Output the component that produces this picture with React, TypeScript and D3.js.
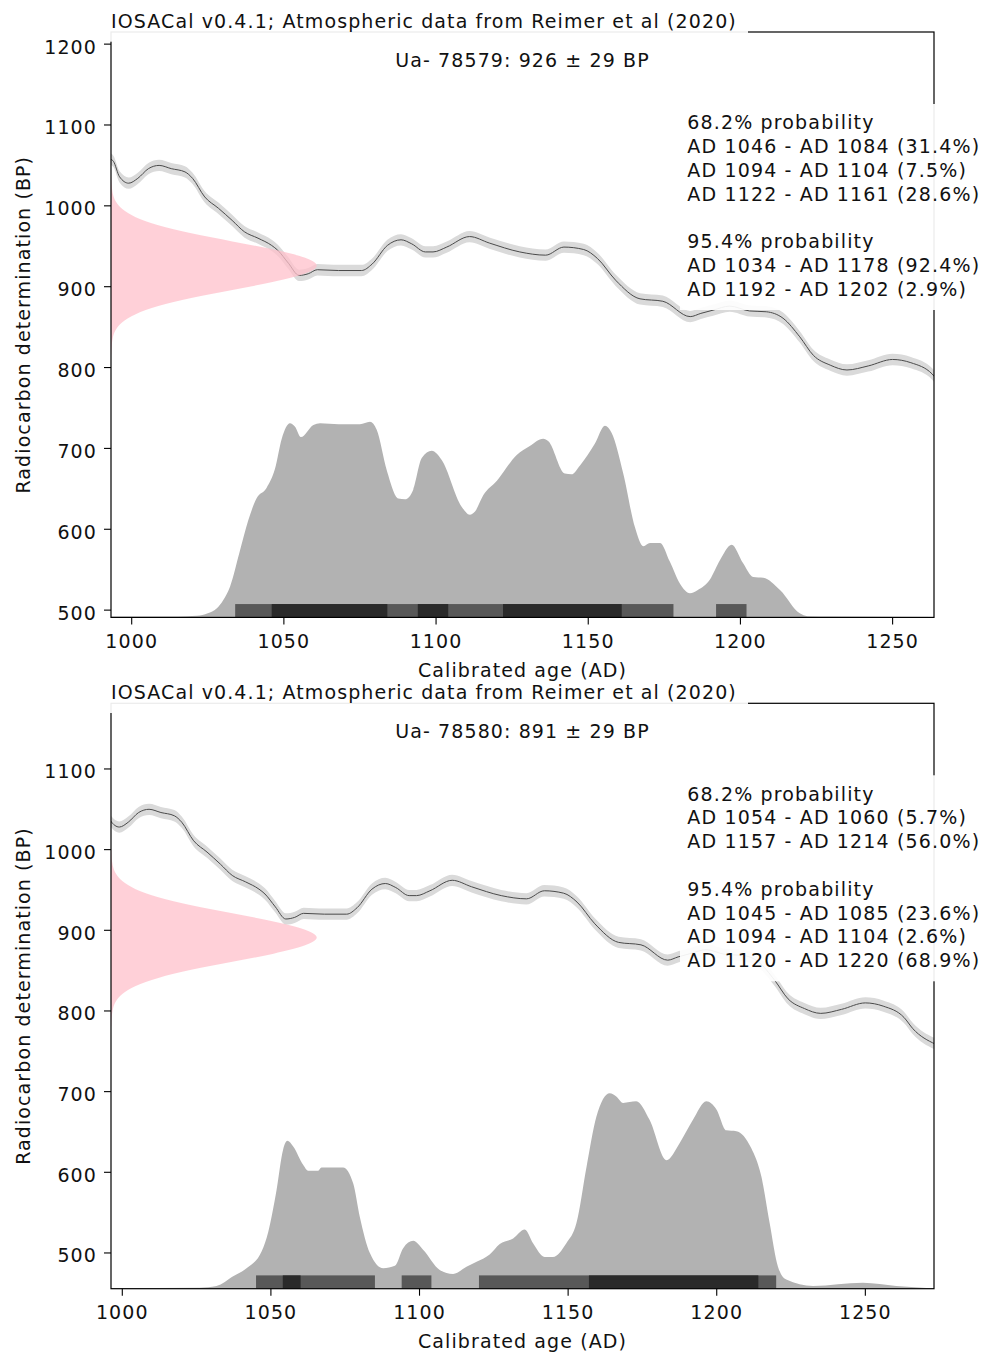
import React from "react";
import * as d3 from "d3";

// atmospheric calibration curve (year AD -> radiocarbon age BP)
const curveYears = [993, 994, 996, 999, 1002, 1005.5, 1009, 1013, 1017.5, 1020, 1024, 1028.5, 1033, 1037, 1041.5, 1046, 1048, 1051.5, 1055, 1058, 1061, 1068, 1075.5, 1079, 1084, 1088.5, 1092, 1096.5, 1099, 1103.5, 1111, 1117.5, 1127.5, 1136, 1142, 1148.5, 1153, 1159, 1167, 1174.5, 1183.5, 1187, 1191, 1196.5, 1203, 1208.5, 1214, 1219.5, 1224, 1229.5, 1235, 1242, 1250, 1256, 1263, 1266, 1273.5];
const curveBP = [1058, 1055, 1036, 1028, 1034, 1046, 1050, 1046, 1042, 1034, 1011, 997, 982, 968, 960, 951, 945, 929, 914, 916, 921, 920, 920, 928, 951, 958, 953, 943, 943, 949, 962, 954, 943, 939, 949, 946, 935, 908, 885, 882, 863, 867, 871, 876, 870, 869, 861, 838, 815, 803, 797, 802, 810, 806, 792, 778, 759];
const curveSigma = 7;

// normal profile of the determination (offset in BP, relative width)
const pinkOffsets = [-110, -100, -90, -80, -70, -60, -50, -40, -30, -20, -10, 0, 10, 20, 30, 40, 50, 60, 70, 80, 90, 100, 110];
const pinkWidths = [0.001, 0.003, 0.008, 0.022, 0.055, 0.12, 0.23, 0.39, 0.59, 0.79, 0.94, 1, 0.94, 0.79, 0.59, 0.39, 0.23, 0.12, 0.055, 0.022, 0.008, 0.003, 0.001];

const xTicks = [1000, 1050, 1100, 1150, 1200, 1250];
const yTicksTop = [500, 600, 700, 800, 900, 1000, 1100, 1200];
const yTicksBottom = [500, 600, 700, 800, 900, 1000, 1100];

// Ua-78579
const label1 = "Ua- 78579: 926 ± 29 BP";
const mean1 = 926;
const probYears1 = [993.2, 1015, 1021.5, 1025, 1027.9, 1030, 1032.3, 1035.6, 1038.3, 1041, 1044.3, 1047.1, 1049.3, 1052, 1053.6, 1055.6, 1059.7, 1061.9, 1068, 1075, 1078.3, 1080.5, 1083.8, 1087.6, 1089.8, 1092.5, 1095.3, 1098.6, 1101.8, 1108.4, 1111.1, 1112.8, 1115.5, 1120, 1126.5, 1130.8, 1135.2, 1136.9, 1142.3, 1144.5, 1147.3, 1152.2, 1155.5, 1157.7, 1161.5, 1165.3, 1168.1, 1170.3, 1173.6, 1176.8, 1180.1, 1183.4, 1186, 1190, 1193.3, 1197.1, 1200.9, 1204.2, 1207.5, 1213, 1219.5, 1222, 1230, 1263.6];
const probVals1 = [492, 492, 493, 496, 502, 512, 529, 574, 611, 638, 651, 675, 712, 731, 727, 714, 729, 731, 730, 730, 733, 723, 673, 638, 637, 649, 688, 697, 686, 628, 618, 622, 642, 660, 692, 703, 712, 709, 669, 668, 679, 706, 728, 719, 669, 603, 579, 583, 583, 560, 533, 521, 525, 538, 562, 581, 558, 541, 540, 525, 496, 492.5, 492, 491.5];
const hpd68_1 = [[1046, 1084], [1094, 1104], [1122, 1161]];
const hpd95_1 = [[1034, 1178], [1192, 1202]];
const lines1 = ["68.2% probability", "AD 1046 - AD 1084 (31.4%)", "AD 1094 - AD 1104 (7.5%)", "AD 1122 - AD 1161 (28.6%)", "", "95.4% probability", "AD 1034 - AD 1178 (92.4%)", "AD 1192 - AD 1202 (2.9%)"];

// Ua-78580
const label2 = "Ua- 78580: 891 ± 29 BP";
const mean2 = 891;
const probYears2 = [996.2, 1026, 1031.7, 1037.3, 1041.8, 1046.9, 1049.1, 1051.9, 1054.1, 1055.5, 1057.5, 1060.9, 1062.5, 1065.9, 1067, 1074.3, 1077.7, 1079.9, 1083.3, 1087.8, 1091.7, 1094.5, 1097.9, 1101.2, 1106.8, 1111.3, 1115.8, 1119.2, 1123.6, 1127, 1131.5, 1135.4, 1138.2, 1142.1, 1144.9, 1149.4, 1152.8, 1156.2, 1159.5, 1164, 1166.2, 1168.5, 1172.9, 1177.4, 1183.1, 1187.5, 1192, 1196.5, 1199.9, 1203.2, 1206.6, 1211.6, 1215, 1217.8, 1220.6, 1223.4, 1232.4, 1249.2, 1260.4, 1273.1];
const probVals2 = [456.5, 457, 459, 471, 481, 502, 526, 578, 628, 639, 632, 609, 602, 602, 606, 606, 586, 545, 500, 481, 484, 506, 515, 504, 479, 474, 483, 489, 498, 511, 518, 529, 512, 495, 495, 512, 537, 607, 669, 698, 694, 686, 688, 665, 615, 636, 665, 688, 678, 652, 651, 630, 595, 537, 483, 467, 459, 463, 459, 456];
const hpd68_2 = [[1054, 1060], [1157, 1214]];
const hpd95_2 = [[1045, 1085], [1094, 1104], [1120, 1220]];
const lines2 = ["68.2% probability", "AD 1054 - AD 1060 (5.7%)", "AD 1157 - AD 1214 (56.0%)", "", "95.4% probability", "AD 1045 - AD 1085 (23.6%)", "AD 1094 - AD 1104 (2.6%)", "AD 1120 - AD 1220 (68.9%)"];

const title = "IOSACal v0.4.1; Atmospheric data from Reimer et al (2020)";

const L = 111;
const R = 934;
const PH = 585.4;
const font = "DejaVu Sans";
const fs = 19;

function Panel(props: any) {
  const { id, top, xDomain, yDomain, yTicks, years, vals, hpd68, hpd95, mean, label, lines } = props;
  const x = d3.scaleLinear().domain(xDomain).range([L, R]);
  const y = d3.scaleLinear().domain(yDomain).range([top + PH, top]);
  const base = yDomain[0];
  const barH = 16.5;

  const dens = d3.area<number>()
    .x((_, i) => x(years[i]))
    .y0(y(base))
    .y1((d) => y(d))
    .curve(d3.curveMonotoneX);
  const band = d3.area<number>()
    .x((_, i) => x(curveYears[i]))
    .y0((d) => y(d - curveSigma))
    .y1((d) => y(d + curveSigma))
    .curve(d3.curveMonotoneX);
  const line = d3.line<number>()
    .x((_, i) => x(curveYears[i]))
    .y((d) => y(d))
    .curve(d3.curveMonotoneX);
  const pw = d3.scaleLinear().domain([0, 1]).range([L, L + 0.25 * (R - L)]);
  const pink = d3.area<number>()
    .y((_, i) => y(mean + pinkOffsets[i]))
    .x0(L)
    .x1((d) => pw(d))
    .curve(d3.curveMonotoneY);

  const mid = (L + R) / 2;

  return (
    <g>
      <defs>
        <clipPath id={id}>
          <rect x={L} y={top} width={R - L} height={PH} />
        </clipPath>
      </defs>
      <g clipPath={`url(#${id})`}>
        <path d={dens(vals) ?? ""} fill="#b2b2b2" />
        {hpd95.map((h: number[], i: number) => (
          <rect key={"a" + i} x={x(h[0])} width={x(h[1]) - x(h[0])} y={y(base + barH)} height={y(base) - y(base + barH)} fill="#585858" />
        ))}
        {hpd68.map((h: number[], i: number) => (
          <rect key={"b" + i} x={x(h[0])} width={x(h[1]) - x(h[0])} y={y(base + barH)} height={y(base) - y(base + barH)} fill="#2a2a2a" />
        ))}
        <path d={band(curveBP) ?? ""} fill="#dadada" />
        <path d={line(curveBP) ?? ""} fill="none" stroke="#4a4a4a" strokeWidth={1} />
        <path d={pink(pinkWidths) ?? ""} fill="#ffc0cb" fillOpacity={0.75} />
      </g>
      <rect x={L} y={top} width={R - L} height={PH} fill="none" stroke="#000" strokeWidth={1.2} />
      {xTicks.map((t) => (
        <g key={t}>
          <line x1={x(t)} x2={x(t)} y1={top + PH} y2={top + PH + 7} stroke="#000" strokeWidth={1.1} />
          <text x={x(t)} y={top + PH + 30.4} textAnchor="middle">{t}</text>
        </g>
      ))}
      {yTicks.map((t: number) => (
        <g key={t}>
          <line x1={L - 7} x2={L} y1={y(t)} y2={y(t)} stroke="#000" strokeWidth={1.1} />
          <text x={97} y={y(t) + 9.5} textAnchor="end">{t}</text>
        </g>
      ))}
      <text x={mid} y={top + PH + 59.4} textAnchor="middle">Calibrated age (AD)</text>
      <text transform={`translate(29.5, ${top + PH / 2}) rotate(-90)`} textAnchor="middle">Radiocarbon determination (BP)</text>
      <rect x={104} y={top - 21} width={748 - 104} height={30.7} fill="#fff" fillOpacity={0.92} />
      <text x={L} y={top - 4.3}>{title}</text>
      <text x={mid} y={top + 34.7} textAnchor="middle">{label}</text>
      <rect x={680} y={top + 72} width={320} height={206} fill="#fff" fillOpacity={0.92} />
      {lines.map((s: string, i: number) => (
        <text key={i} x={687.3} y={top + 97.3 + i * 23.8} letterSpacing={1.15}>{s}</text>
      ))}
    </g>
  );
}

export default function App() {
  return (
    <svg
      width={985}
      height={1355}
      style={{ position: "absolute", left: 0, top: 0, background: "#fff" }}
      fontFamily={font}
      fontSize={fs}
      letterSpacing={1.1}
      fill="#111"
    >
      <rect x={0} y={0} width={985} height={1355} fill="#fff" />
      <Panel
        id="clip1"
        top={32}
        xDomain={[993.2, 1263.6]}
        yDomain={[491, 1215]}
        yTicks={yTicksTop}
        years={probYears1}
        vals={probVals1}
        hpd68={hpd68_1}
        hpd95={hpd95_1}
        mean={mean1}
        label={label1}
        lines={lines1}
      />
      <Panel
        id="clip2"
        top={703.3}
        xDomain={[996.2, 1273.1]}
        yDomain={[455.7, 1181.4]}
        yTicks={yTicksBottom}
        years={probYears2}
        vals={probVals2}
        hpd68={hpd68_2}
        hpd95={hpd95_2}
        mean={mean2}
        label={label2}
        lines={lines2}
      />
    </svg>
  );
}
